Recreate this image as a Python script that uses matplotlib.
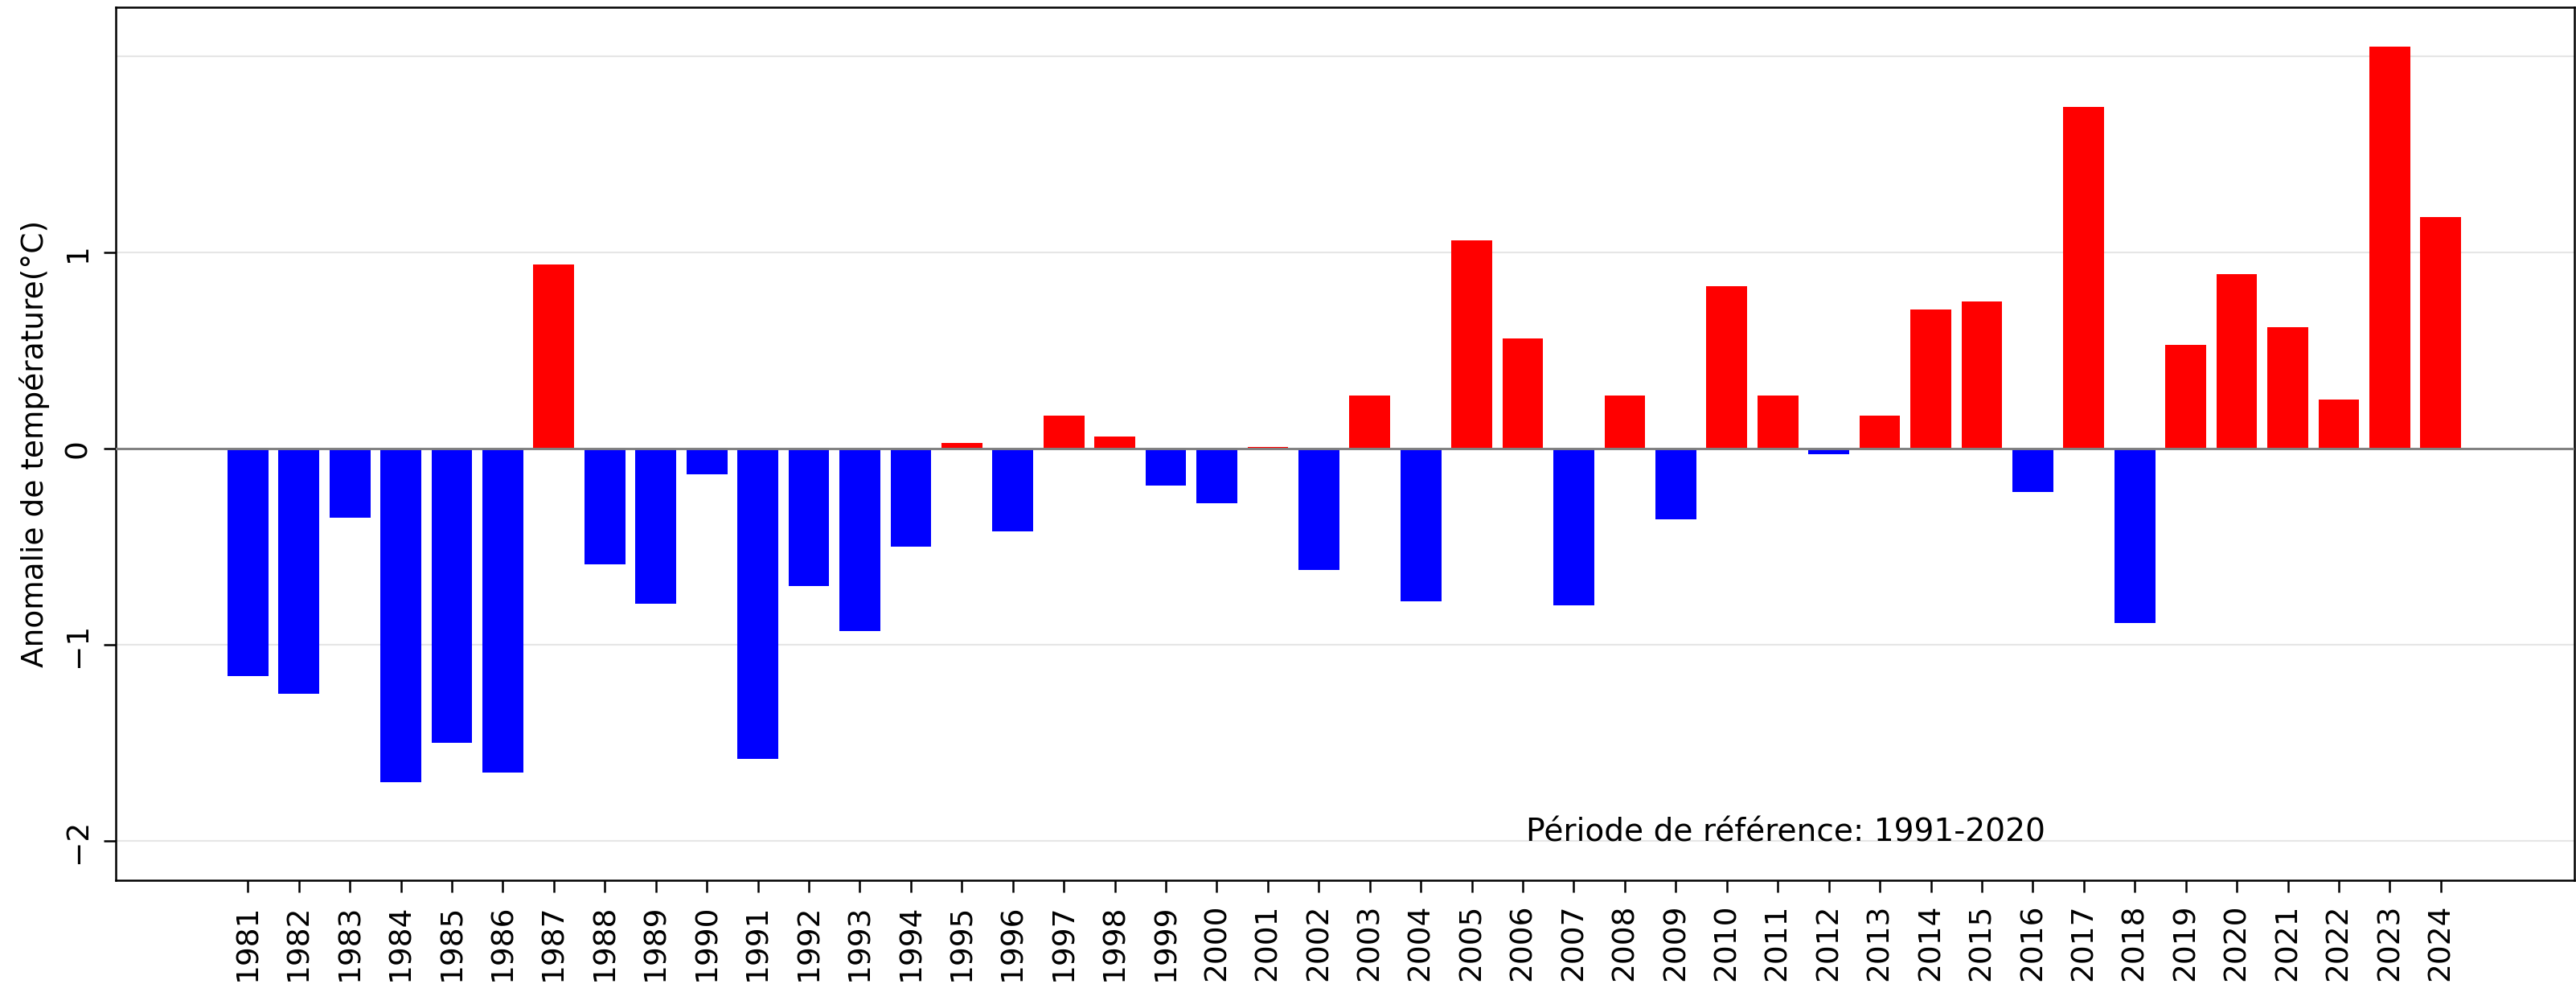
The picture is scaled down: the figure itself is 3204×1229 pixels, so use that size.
import matplotlib
matplotlib.use("Agg")
import matplotlib.pyplot as plt

years = list(range(1981, 2025))
anomalies = [-1.16, -1.25, -0.35, -1.70, -1.50, -1.65, 0.94, -0.59, -0.79, -0.13,
             -1.58, -0.70, -0.93, -0.50, 0.03, -0.42, 0.17, 0.06, -0.19, -0.28,
             0.01, -0.62, 0.27, -0.78, 1.06, 0.56, -0.80, 0.27, -0.36, 0.83,
             0.27, -0.03, 0.17, 0.71, 0.75, -0.22, 1.74, -0.89, 0.53, 0.89,
             0.62, 0.25, 2.05, 1.18]
ytick_values = [-2, -1, 0, 1]
grid_levels = [-2, -1, 0, 1, 2]
ylabel = "Anomalie de température(°C)"
note = "Période de référence: 1991-2020"

plt.rcParams['font.family'] = ['DejaVu Sans']
fig = plt.figure(figsize=(3204/300, 1229/300), dpi=300)
ax = fig.add_axes([144/3204, 1 - 1095/1229, (3202-144)/3204, (1095-9)/1229])

for g in grid_levels:
    ax.axhline(g, color='#e6e6e6', lw=0.5, zorder=0)

colors = ['red' if v >= 0 else 'blue' for v in anomalies]
ax.bar(years, anomalies, width=0.8, color=colors, zorder=2)
ax.axhline(0, color='gray', lw=0.7, zorder=3)

ax.set_xlim(1978.41, 2026.62)
ax.set_ylim(-2.2, 2.25)
ax.set_xticks(years)
ax.set_xticklabels([str(y) for y in years], rotation=90, fontsize=9)
ax.set_yticks(ytick_values)
ax.set_yticklabels(["\u2212" + str(-v) if v < 0 else str(v) for v in ytick_values],
                   rotation=90, fontsize=9, va='center')
ax.set_ylabel(ylabel, fontsize=9)
ax.tick_params(width=0.6, length=3.5)
for s in ax.spines.values():
    s.set_linewidth(0.6)

ax.text(2006.06, -2.0, note, fontsize=9.4, ha='left', va='baseline')

fig.savefig("out.png", dpi=300)
